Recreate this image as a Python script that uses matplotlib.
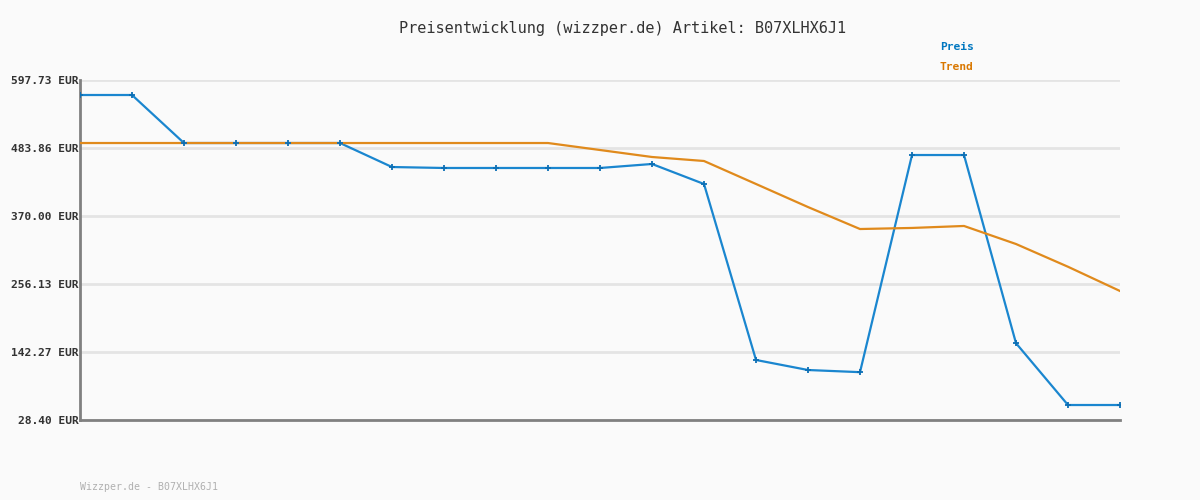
import matplotlib.pyplot as plt

# price history (EUR), 21 samples
preis = [572.6, 572.6, 492.2, 492.2, 492.2, 492.2, 452.0, 450.4, 450.4, 450.4,
         450.4, 457.1, 423.6, 128.9, 112.1, 108.5, 472.1, 472.1, 157.0, 53.5, 53.5]
trend = [492.2, 492.2, 492.2, 492.2, 492.2, 492.2, 492.2, 492.2, 492.2, 492.2,
         480.5, 468.8, 462.1, 423.6, 385.0, 348.2, 350.0, 353.3, 323.1, 285.0, 244.4]
y_ticks = [28.40, 142.27, 256.13, 370.00, 483.86, 597.73]
title = "Preisentwicklung (wizzper.de) Artikel: B07XLHX6J1"
footer = "Wizzper.de - B07XLHX6J1"

BLUE = '#1a86cf'
ORANGE = '#e08a1c'
BG = '#fafafa'
MONO = 'DejaVu Sans Mono'

fig = plt.figure(figsize=(12, 5), dpi=100, facecolor=BG)
ax = fig.add_axes([80 / 1200, 80 / 500, 1040 / 1200, 340 / 500], facecolor=BG)

x = list(range(len(preis)))
ax.plot(x, preis, color=BLUE, lw=1.6, zorder=3)
ax.plot(x, trend, color=ORANGE, lw=1.6, zorder=4)
ax.plot(x, preis, ls='none', marker='+', ms=5, mew=1.3, color='#0c6fb5', zorder=5)

ax.set_xlim(0, len(preis) - 1)
ax.set_ylim(y_ticks[0], y_ticks[-1])
ax.set_yticks(y_ticks)
ax.set_yticklabels([f"{v:.2f} EUR" for v in y_ticks], family=MONO,
                   fontsize=8.1, fontweight='bold', color='#333333')
ax.set_xticks([])
ax.tick_params(axis='y', length=0, pad=1)
ax.grid(axis='y', color='#e4e4e4', lw=2)
ax.set_axisbelow(True)

for side in ('top', 'right'):
    ax.spines[side].set_visible(False)
for side in ('left', 'bottom'):
    ax.spines[side].set_color('#808080')
    ax.spines[side].set_linewidth(2)

fig.text(623 / 1200, 1 - 28 / 500, title, ha='center', va='center',
         family=MONO, fontsize=11, color='#333333')
fig.text(940 / 1200, 1 - 47 / 500, "Preis", ha='left', va='center',
         family=MONO, fontsize=8.1, fontweight='bold', color='#0077c0')
fig.text(940 / 1200, 1 - 67 / 500, "Trend", ha='left', va='center',
         family=MONO, fontsize=8.1, fontweight='bold', color='#d97700')
fig.text(80 / 1200, 1 - 487 / 500, footer, ha='left', va='center',
         family=MONO, fontsize=7.1, color='#b0b0b0')

fig.savefig('out.png', dpi=100, facecolor=BG)
